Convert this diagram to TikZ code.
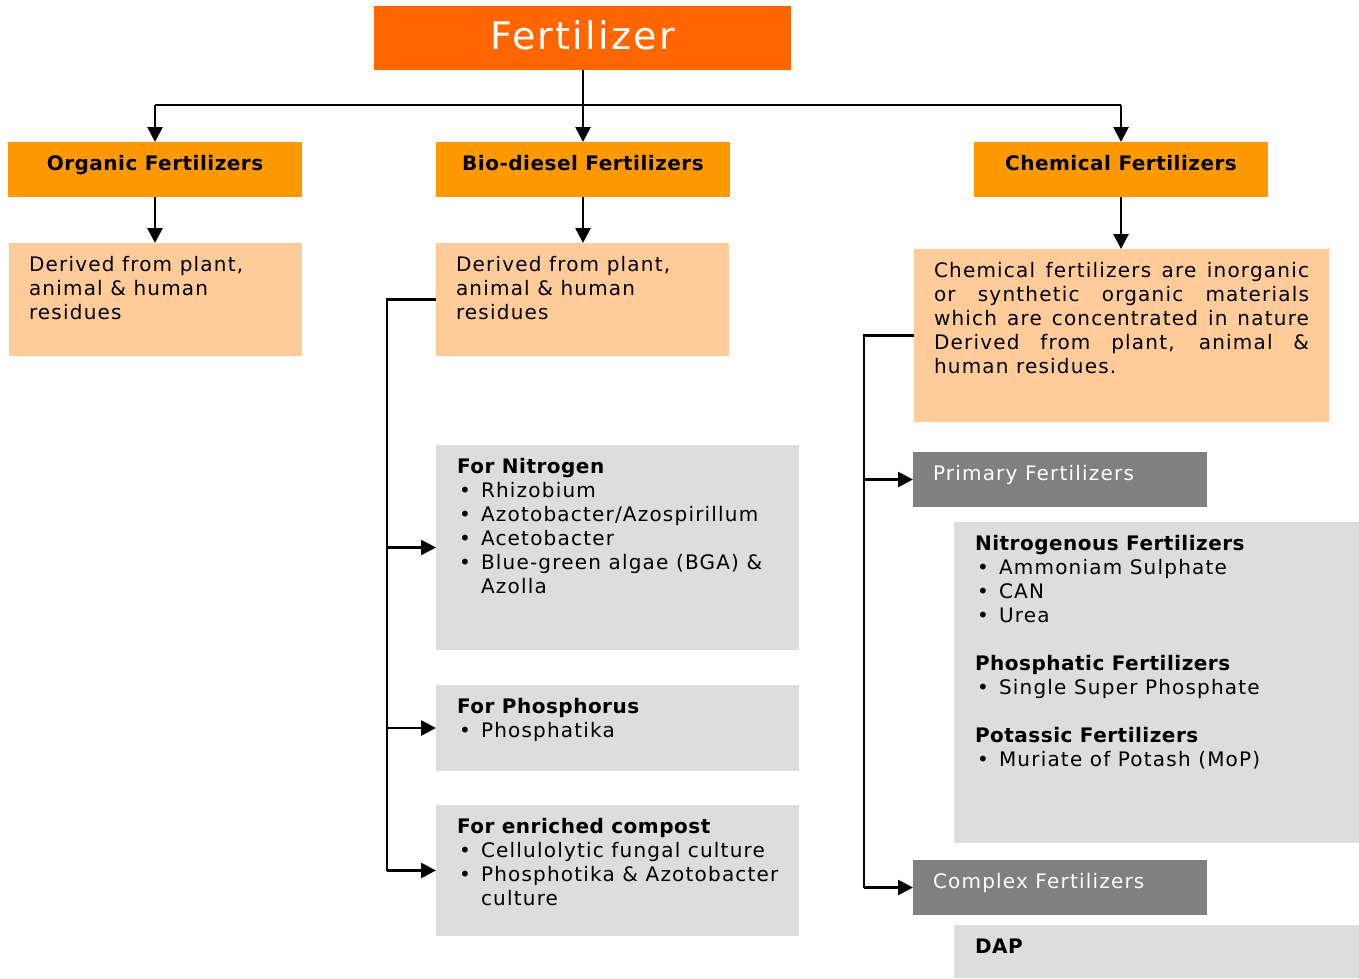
\documentclass[tikz,border=0pt]{standalone}
\usepackage{fontspec}
\setmainfont{DejaVu Sans}[LetterSpace=6, BoldFeatures={LetterSpace=2.5}]
\usetikzlibrary{arrows.meta}
\definecolor{orT}{HTML}{FF6600}
\definecolor{orH}{HTML}{FF9900}
\definecolor{orL}{HTML}{FFCC99}
\definecolor{grL}{HTML}{DDDDDD}
\definecolor{grD}{HTML}{808080}
\newcommand\itm[1]{\par\hangindent=24pt\hangafter=1\noindent\makebox[24pt][l]{\hspace{2pt}•}#1}
\newcommand\hdl[1]{\par\noindent{\bfseries #1}}
\newcommand\brk{\hfil\break}
\newcommand\txtblock[2]{\parbox[t]{#1}{\fontsize{20}{24}\selectfont\raggedright #2}}
\tikzset{
  bx/.style={draw=none, inner sep=0pt, outer sep=0pt, anchor=north west},
  tx/.style={inner sep=0pt, outer sep=0pt, text=black},
  ln/.style={line width=2.7pt, draw=black},
  arr/.style={line width=2.7pt, draw=black, -{Triangle[length=15pt,width=15pt]}},
  hdtext/.style={tx, anchor=base, font=\fontsize{20}{24}\selectfont\bfseries},
}
\begin{document}
\begin{tikzpicture}[x=1pt,y=-1pt]
\useasboundingbox (0,0) rectangle (1359,978);
% boxes
\node[bx, fill=orT, minimum width=417pt, minimum height=64pt] (fert) at (374,6) {};
\node[bx, fill=orH, minimum width=294pt, minimum height=55pt] (org) at (8,142) {};
\node[bx, fill=orH, minimum width=294pt, minimum height=55pt] (bio) at (436,142) {};
\node[bx, fill=orH, minimum width=294pt, minimum height=55pt] (chem) at (974,142) {};
\node[bx, fill=orL, minimum width=293pt, minimum height=113pt] (orgd) at (9,243) {};
\node[bx, fill=orL, minimum width=293pt, minimum height=113pt] (biod) at (436,243) {};
\node[bx, fill=orL, minimum width=415pt, minimum height=173pt] (chemd) at (914,249) {};
\node[bx, fill=grL, minimum width=363pt, minimum height=205pt] (nit) at (436,445) {};
\node[bx, fill=grL, minimum width=363pt, minimum height=86pt] (pho) at (436,685) {};
\node[bx, fill=grL, minimum width=363pt, minimum height=131pt] (comp) at (436,805) {};
\node[bx, fill=grD, minimum width=294pt, minimum height=55pt] (prim) at (913,452) {};
\node[bx, fill=grL, minimum width=405pt, minimum height=321pt] (nitf) at (954,522) {};
\node[bx, fill=grD, minimum width=294pt, minimum height=55pt] (cplx) at (913,860) {};
\node[bx, fill=grL, minimum width=405pt, minimum height=53pt] (dap) at (954,925) {};
% texts
\node[tx, anchor=base, text=white, font=\fontsize{38}{44}\selectfont] (fertT) at ([yshift=-43pt]fert.north) {Fertilizer};
\node[hdtext] (orgT) at ([yshift=-28pt]org.north) {Organic Fertilizers};
\node[hdtext] (bioT) at ([yshift=-28pt]bio.north) {Bio-diesel Fertilizers};
\node[hdtext] (chemT) at ([yshift=-28pt]chem.north) {Chemical Fertilizers};
\node[tx, anchor=base west] (orgdT) at ([xshift=20pt,yshift=-28pt]orgd.north west)
  {\txtblock{265pt}{Derived from plant,\\ animal \& human\\ residues}};
\node[tx, anchor=base west] (biodT) at ([xshift=20pt,yshift=-28pt]biod.north west)
  {\txtblock{265pt}{Derived from plant,\\ animal \& human\\ residues}};
\node[tx, anchor=base west] (chemdT) at ([xshift=20pt,yshift=-28pt]chemd.north west)
  {\txtblock{375pt}{\makebox[375pt][s]{Chemical fertilizers are inorganic}\\
   \makebox[375pt][s]{or synthetic organic materials}\\
   \makebox[375pt][s]{which are concentrated in nature}\\
   \makebox[375pt][s]{Derived from plant, animal \&}\\
   human residues.}};
\node[tx, anchor=base west] (nitT) at ([xshift=21pt,yshift=-28pt]nit.north west)
  {\txtblock{340pt}{\hdl{For Nitrogen}\itm{Rhizobium}\itm{Azotobacter/Azospirillum}\itm{Acetobacter}\itm{Blue-green algae (BGA) \&\brk Azolla}}};
\node[tx, anchor=base west] (phoT) at ([xshift=21pt,yshift=-28pt]pho.north west)
  {\txtblock{340pt}{\hdl{For Phosphorus}\itm{Phosphatika}}};
\node[tx, anchor=base west] (compT) at ([xshift=21pt,yshift=-28pt]comp.north west)
  {\txtblock{340pt}{\hdl{For enriched compost}\itm{Cellulolytic fungal culture}\itm{Phosphotika \& Azotobacter\brk culture}}};
\node[tx, anchor=base west, text=white, font=\fontsize{20}{24}\selectfont] (primT) at ([xshift=20pt,yshift=-28pt]prim.north west) {Primary Fertilizers};
\node[tx, anchor=base west, text=white, font=\fontsize{20}{24}\selectfont] (cplxT) at ([xshift=20pt,yshift=-28pt]cplx.north west) {Complex Fertilizers};
\node[tx, anchor=base west] (nitfT) at ([xshift=21pt,yshift=-28pt]nitf.north west)
  {\txtblock{380pt}{\hdl{Nitrogenous Fertilizers}\itm{Ammoniam Sulphate}\itm{CAN}\itm{Urea}\par\vspace{24pt}%
   \hdl{Phosphatic Fertilizers}\itm{Single Super Phosphate}\par\vspace{24pt}%
   \hdl{Potassic Fertilizers}\itm{Muriate of Potash (MoP)}}};
\node[tx, anchor=base west] (dapT) at ([xshift=21pt,yshift=-28pt]dap.north west)
  {\txtblock{380pt}{\hdl{DAP}}};
% connectors
\coordinate (hy) at (0,105);
\coordinate (bb) at (387,0);
\coordinate (cb) at (864,0);
\draw[ln] (org.north |- hy) -- (chem.north |- hy);
\draw[arr] (bio.north |- fert.south) -- (bio.north);
\draw[arr] (org.north |- hy) -- (org.north);
\draw[arr] (chem.north |- hy) -- (chem.north);
\draw[arr] (org.south) -- (org.south |- orgd.north);
\draw[arr] (bio.south) -- (bio.south |- biod.north);
\draw[arr] (chem.south) -- (chem.south |- chemd.north);
\draw[ln] (biod.west) -- (bb |- biod.west) -- (bb |- comp.west);
\draw[arr] (bb |- nit.west) -- (nit.west);
\draw[arr] (bb |- pho.west) -- (pho.west);
\draw[arr] (bb |- comp.west) -- (comp.west);
\draw[ln] (chemd.west) -- (cb |- chemd.west) -- (cb |- cplx.west);
\draw[arr] (cb |- prim.west) -- (prim.west);
\draw[arr] (cb |- cplx.west) -- (cplx.west);
\end{tikzpicture}
\end{document}
